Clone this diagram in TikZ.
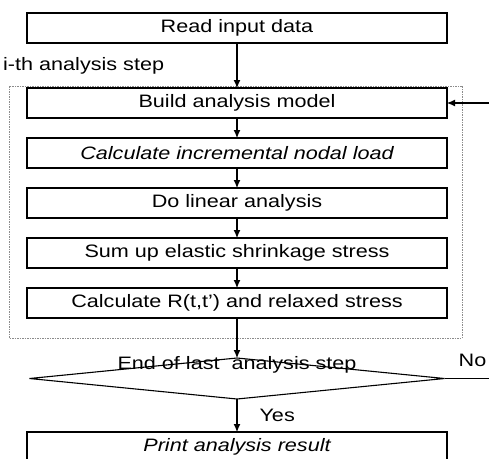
\documentclass[tikz,border=0pt]{standalone}
\usepackage{fontspec}
\setmainfont{Liberation Sans}[FakeStretch=1.2]
\usetikzlibrary{arrows.meta,positioning,calc,shapes.geometric}
\tikzset{
  stepbox/.style={
    draw=black,line width=1.1pt,minimum width=420pt,
    minimum height=30pt,inner sep=0pt,outer sep=0pt,align=center,
    font=\fontsize{18}{21}\selectfont
  },
  testbox/.style={
    diamond,draw=black,line width=1.1pt,aspect=10,outer sep=0pt,
    minimum width=415pt,minimum height=41pt,inner sep=0pt
  },
  arrow/.style={-{Latex[length=8pt,width=7pt]},draw=black,line width=1.1pt},
  frame/.style={draw=black!45,line width=.6pt,dash pattern=on 1.5pt off 1pt},
  tag/.style={font=\fontsize{18}{21}\selectfont,inner sep=0pt}
}

\begin{document}
\begin{tikzpicture}[node distance=20pt]
\useasboundingbox (0,0) rectangle (489pt,-458pt);
\clip (0,0) rectangle (489pt,-458pt);

\node[stepbox] (read) at (237pt,-28pt) {Read input data};
\node[stepbox,below=45pt of read] (build) {Build analysis model};
\node[stepbox,below=of build] (incr) {\itshape Calculate incremental nodal load};
\node[stepbox,below=of incr] (linear) {Do linear analysis};
\node[stepbox,below=of linear] (sumup) {Sum up elastic shrinkage stress};
\node[stepbox,below=of sumup] (relax) {Calculate R(t,t') and relaxed stress};

% the i-th step frame
\coordinate (fnw) at ($(build.north west)+(-18pt,2pt)$);
\coordinate (fse) at ($(relax.south east)+(15pt,-20pt)$);
\draw[frame] (fnw) rectangle (fse);
\node[tag,anchor=base west] (steplabel) at ($(fnw)+(-6pt,16pt)$) {i-th analysis step};

\node[testbox,below=40pt of relax,
  label={[tag,yshift=13.5pt]center:End of last~ analysis step}] (last) {};
\node[stepbox,below=33pt of last] (print) {\itshape\raisebox{4pt}{Print analysis result}};

\draw[arrow] (read) -- (build);
\draw[arrow] (build) -- (incr);
\draw[arrow] (incr) -- (linear);
\draw[arrow] (linear) -- (sumup);
\draw[arrow] (sumup) -- (relax);
\draw[arrow] (relax) -- (last);
\draw[arrow] (last) -- node[tag,right=22pt] (yes) {Yes} (print);

% loop back (runs off the page)
\coordinate (noend) at ($(last.east)+(80pt,0)$);
\node[tag,anchor=base west] (no) at ($(last.east)+(14pt,12pt)$) {No};
\draw[arrow] (last.east) -- (noend) |- (build.east);
\end{tikzpicture}
\end{document}
